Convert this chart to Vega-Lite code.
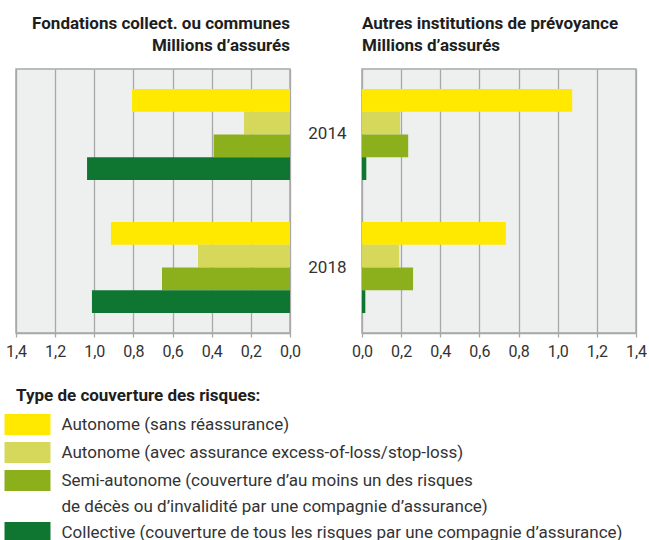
{
  "$schema": "https://vega.github.io/schema/vega-lite/v6.json",
  "background": "white",
  "padding": {"left": 4, "top": 14, "right": 8, "bottom": 0},
  "bounds": "flush",
  "spacing": 72,
  "data": {"values": [
    {"panel": "F", "year": "2014", "type": "Autonome (sans réassurance)", "value": 0.807},
    {"panel": "F", "year": "2014", "type": "Autonome (avec assurance excess-of-loss/stop-loss)", "value": 0.235},
    {"panel": "F", "year": "2014", "type": "Semi-autonome (couverture d’au moins un des risques de décès ou d’invalidité par une compagnie d’assurance)", "value": 0.39},
    {"panel": "F", "year": "2014", "type": "Collective (couverture de tous les risques par une compagnie d’assurance)", "value": 1.037},
    {"panel": "F", "year": "2018", "type": "Autonome (sans réassurance)", "value": 0.915},
    {"panel": "F", "year": "2018", "type": "Autonome (avec assurance excess-of-loss/stop-loss)", "value": 0.47},
    {"panel": "F", "year": "2018", "type": "Semi-autonome (couverture d’au moins un des risques de décès ou d’invalidité par une compagnie d’assurance)", "value": 0.654},
    {"panel": "F", "year": "2018", "type": "Collective (couverture de tous les risques par une compagnie d’assurance)", "value": 1.012},
    {"panel": "A", "year": "2014", "type": "Autonome (sans réassurance)", "value": 1.074},
    {"panel": "A", "year": "2014", "type": "Autonome (avec assurance excess-of-loss/stop-loss)", "value": 0.195},
    {"panel": "A", "year": "2014", "type": "Semi-autonome (couverture d’au moins un des risques de décès ou d’invalidité par une compagnie d’assurance)", "value": 0.236},
    {"panel": "A", "year": "2014", "type": "Collective (couverture de tous les risques par une compagnie d’assurance)", "value": 0.022},
    {"panel": "A", "year": "2018", "type": "Autonome (sans réassurance)", "value": 0.735},
    {"panel": "A", "year": "2018", "type": "Autonome (avec assurance excess-of-loss/stop-loss)", "value": 0.19},
    {"panel": "A", "year": "2018", "type": "Semi-autonome (couverture d’au moins un des risques de décès ou d’invalidité par une compagnie d’assurance)", "value": 0.261},
    {"panel": "A", "year": "2018", "type": "Collective (couverture de tous les risques par une compagnie d’assurance)", "value": 0.017}
  ]},
  "config": {
    "font": "Roboto",
    "view": {"fill": "#eef0ef", "stroke": "#a8a8a8", "strokeWidth": 1.5},
    "title": {"fontSize": 17, "fontWeight": "bold", "color": "#1e1e1e", "lineHeight": 22, "offset": 14, "frame": "group"},
    "axisX": {
      "grid": true, "gridColor": "#a8a8a8", "gridWidth": 1.3,
      "domain": true, "domainColor": "#a8a8a8", "domainWidth": 1.5,
      "ticks": true, "tickColor": "#a8a8a8", "tickSize": 4, "tickWidth": 1.3,
      "labelFontSize": 16, "labelColor": "#333333", "labelPadding": 6,
      "labelFlush": false, "labelOverlap": false, "title": null,
      "values": [0, 0.2, 0.4, 0.6, 0.8, 1.0, 1.2, 1.4],
      "labelExpr": "replace(format(datum.value, '.1f'), '.', ',')"
    },
    "legend": {
      "orient": "none", "legendX": 0, "legendY": 319,
      "titleFontSize": 17, "titleFontWeight": "bold", "titleColor": "#1e1e1e", "titlePadding": 8, "titleLimit": 600,
      "labelFontSize": 17, "labelColor": "#333333", "labelLimit": 700, "labelOffset": 22.5,
      "symbolType": "M-2,-0.913H2V0.913H-2Z", "symbolSize": 529, "symbolStrokeWidth": 0, "symbolOpacity": 1,
      "rowPadding": 6
    }
  },
  "hconcat": [
    {
      "width": 274, "height": 264,
      "title": {"text": ["Fondations collect. ou communes", "Millions d’assurés"], "anchor": "end"},
      "transform": [{"filter": "datum.panel == 'F'"}],
      "mark": {"type": "bar"},
      "encoding": {
        "y": {"field": "year", "type": "nominal", "scale": {"paddingInner": 0.316, "paddingOuter": 0.15}, "axis": null},
        "yOffset": {"field": "type", "type": "nominal", "sort": ["Autonome (sans réassurance)", "Autonome (avec assurance excess-of-loss/stop-loss)", "Semi-autonome (couverture d’au moins un des risques de décès ou d’invalidité par une compagnie d’assurance)", "Collective (couverture de tous les risques par une compagnie d’assurance)"], "scale": {"paddingInner": 0, "paddingOuter": 0}},
        "x": {"field": "value", "type": "quantitative", "scale": {"domain": [0, 1.4], "reverse": true, "nice": false}},
        "color": {"field": "type", "type": "nominal", "scale": {"domain": ["Autonome (sans réassurance)", "Autonome (avec assurance excess-of-loss/stop-loss)", "Semi-autonome (couverture d’au moins un des risques de décès ou d’invalidité par une compagnie d’assurance)", "Collective (couverture de tous les risques par une compagnie d’assurance)"], "range": ["#ffe900", "#d5d85a", "#8bb01c", "#0f7632"]},
          "legend": {"title": "Type de couverture des risques:",
            "labelExpr": "indexof(datum.label, 'Semi') == 0 ? ['Semi-autonome (couverture d’au moins un des risques', 'de décès ou d’invalidité par une compagnie d’assurance)'] : datum.label",
            "encode": {"labels": {"update": {"lineHeight": {"value": 26}}}}}}
      }
    },
    {
      "width": 274, "height": 264,
      "title": {"text": ["Autres institutions de prévoyance", "Millions d’assurés"], "anchor": "start"},
      "transform": [{"filter": "datum.panel == 'A'"}],
      "mark": {"type": "bar"},
      "encoding": {
        "y": {"field": "year", "type": "nominal", "scale": {"paddingInner": 0.316, "paddingOuter": 0.15},
          "axis": {"title": null, "domain": false, "ticks": false, "labelFontSize": 17, "labelColor": "#333333", "labelPadding": 16}},
        "yOffset": {"field": "type", "type": "nominal", "sort": ["Autonome (sans réassurance)", "Autonome (avec assurance excess-of-loss/stop-loss)", "Semi-autonome (couverture d’au moins un des risques de décès ou d’invalidité par une compagnie d’assurance)", "Collective (couverture de tous les risques par une compagnie d’assurance)"], "scale": {"paddingInner": 0, "paddingOuter": 0}},
        "x": {"field": "value", "type": "quantitative", "scale": {"domain": [0, 1.4], "nice": false}},
        "color": {"field": "type", "type": "nominal"}
      }
    }
  ]
}
